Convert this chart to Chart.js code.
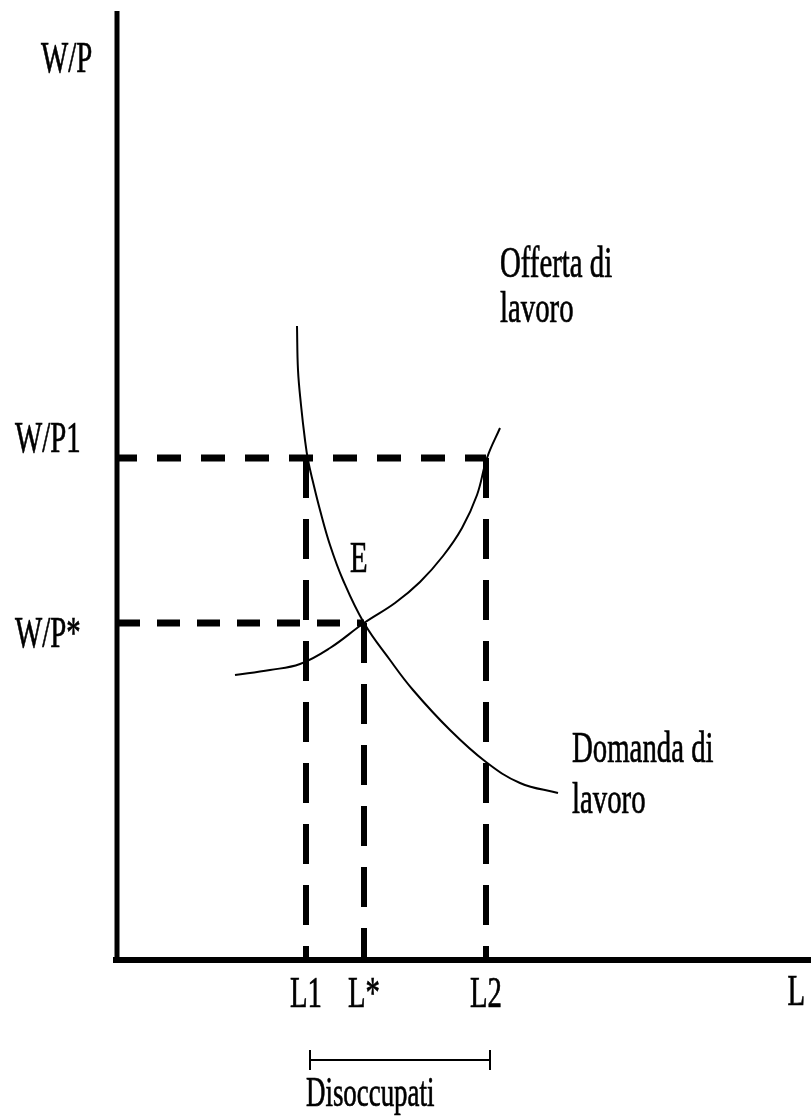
<!DOCTYPE html>
<html>
<head>
<meta charset="utf-8">
<script src="https://cdn.jsdelivr.net/npm/chart.js@4.4.1/dist/chart.umd.min.js"></script>
<style>
  body { margin: 0; background: #fff; }
  canvas { display: block; }
</style>
</head>
<body>
<canvas id="labourChart" width="811" height="1117"></canvas>
<script>
'use strict';

// labour quantity (L) and real wage (W/P), in chart units
var demandL = [180, 181, 184, 188, 191, 196, 203, 213, 226, 247, 273, 296, 333, 369, 403, 441];
var demandW = [634, 590, 555, 520, 500, 478, 450, 415, 380, 337, 300, 270, 230, 198, 177, 167];
var supplyL = [118, 153, 183, 213, 247, 278, 303, 326, 345, 360, 370, 383];
var supplyW = [285, 290, 296, 312, 337, 357, 378, 404, 432, 465, 502, 532];

var xTickLabels = ["L1", "L*", "L2"];
var xTickValues = [189, 247, 369];
var yTickLabels = ["W/P1", "W/P*"];
var yTickValues = [502, 337];

var xMax = 694;
var yMax = 949;

var labourjs = function () {
    return {

        init: function () {
            labourjs.handleChart();
        },

        toPoints: function (xs, ys) {
            return xs.map(function (x, i) { return { x: x, y: ys[i] }; });
        },

        //CONDENSED SERIF TEXT, LIKE THE OLD BITMAP FONT
        text: function (ctx, str, x, y, align, size) {
            ctx.save();
            ctx.translate(x, y);
            ctx.scale(0.64, 1);
            ctx.font = (size || 45) + 'px "Liberation Serif", "Times New Roman", serif';
            ctx.fillStyle = "#000";
            ctx.strokeStyle = "#000";
            ctx.lineWidth = 0.7;
            ctx.textAlign = align || "left";
            ctx.textBaseline = "alphabetic";
            ctx.fillText(str, 0, 0);
            ctx.strokeText(str, 0, 0);
            ctx.restore();
        },

        handleChart: function () {
            var black = "#000";
            var datasets = [];

            // axes
            datasets.push({ data: [{ x: 0, y: -2 }, { x: 0, y: yMax }], borderWidth: 5 });
            datasets.push({ data: [{ x: -4, y: 0 }, { x: xMax, y: 0 }], borderWidth: 6 });

            // horizontal guides W/P1 -> L2 and W/P* -> L*
            datasets.push({
                data: [{ x: 0, y: yTickValues[0] }, { x: xTickValues[2], y: yTickValues[0] }],
                borderWidth: 7, borderDash: [24, 20], borderDashOffset: 4
            });
            datasets.push({
                data: [{ x: 0, y: yTickValues[1] }, { x: xTickValues[1], y: yTickValues[1] }],
                borderWidth: 7, borderDash: [23, 17]
            });

            // vertical guides down to the axis
            var levels = [yTickValues[0], yTickValues[1], yTickValues[0]];
            xTickValues.forEach(function (x, i) {
                datasets.push({
                    data: [{ x: x, y: levels[i] }, { x: x, y: 0 }],
                    borderWidth: 6, borderDash: [40, 21]
                });
            });

            // curves
            datasets.push({ data: labourjs.toPoints(demandL, demandW), borderWidth: 2, tension: 0.4 });
            datasets.push({ data: labourjs.toPoints(supplyL, supplyW), borderWidth: 2, tension: 0.4 });

            datasets.forEach(function (d) {
                d.showLine = true;
                d.borderColor = black;
                d.pointRadius = 0;
                d.clip = false;
                d.borderCapStyle = "butt";
            });

            var labelsPlugin = {
                id: "labels",
                beforeDraw: function (chart) {
                    var c = chart.ctx;
                    c.save();
                    c.fillStyle = "#fff";
                    c.fillRect(0, 0, chart.width, chart.height);
                    c.restore();
                },
                afterDatasetsDraw: function (chart) {
                    var c = chart.ctx;
                    var xs = chart.scales.x;
                    var ys = chart.scales.y;
                    var area = chart.chartArea;

                    labourjs.text(c, "W/P", 41, 72);
                    var yShift = [-6, 24];
                    yTickLabels.forEach(function (lab, i) {
                        labourjs.text(c, lab, 15, ys.getPixelForValue(yTickValues[i]) + yShift[i]);
                    });
                    xTickLabels.forEach(function (lab, i) {
                        labourjs.text(c, lab, xs.getPixelForValue(xTickValues[i]), 1007, "center");
                    });
                    labourjs.text(c, "L", area.right - 6, 1005, "right");

                    var ex = xs.getPixelForValue(xTickValues[1]);
                    var ey = ys.getPixelForValue(yTickValues[1]);
                    labourjs.text(c, "E", ex - 14, ey - 51);

                    labourjs.text(c, "Offerta di", 500, 277);
                    labourjs.text(c, "lavoro", 500, 322);
                    labourjs.text(c, "Domanda di", 572, 762);
                    labourjs.text(c, "lavoro", 572, 813);

                    // Disoccupati bracket between L1 and L2
                    var x1 = xs.getPixelForValue(xTickValues[0]) + 4;
                    var x2 = xs.getPixelForValue(xTickValues[2]) + 4;
                    c.save();
                    c.strokeStyle = black;
                    c.lineWidth = 2;
                    c.beginPath();
                    c.moveTo(x1, 1050); c.lineTo(x1, 1070);
                    c.moveTo(x2, 1050); c.lineTo(x2, 1070);
                    c.moveTo(x1, 1060); c.lineTo(x2, 1060);
                    c.stroke();
                    c.restore();
                    labourjs.text(c, "Disoccupati", x1 - 4, 1106, "left", 42);
                }
            };

            new Chart("labourChart", {
                type: "scatter",
                data: { datasets: datasets },
                options: {
                    responsive: false,
                    animation: false,
                    devicePixelRatio: 1,
                    layout: { padding: { left: 117, right: 0, top: 11, bottom: 157 } },
                    scales: {
                        x: { type: "linear", min: 0, max: xMax, display: false },
                        y: { type: "linear", min: 0, max: yMax, display: false }
                    },
                    plugins: {
                        legend: { display: false },
                        tooltip: { enabled: false }
                    }
                },
                plugins: [labelsPlugin]
            });
        }

    };

}();

labourjs.init();
</script>
</body>
</html>
